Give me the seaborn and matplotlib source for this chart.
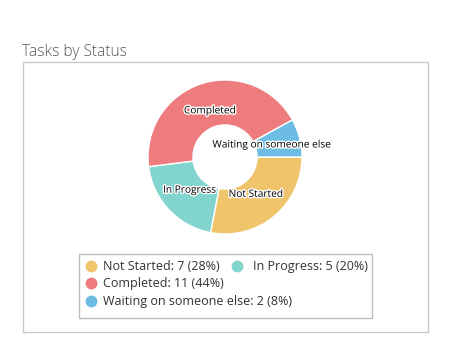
import matplotlib
matplotlib.use("Agg")
import matplotlib.pyplot as plt
import matplotlib.patheffects as pe
from matplotlib.lines import Line2D
from matplotlib.patches import Rectangle
import seaborn as sns
import numpy as np

categories = ["Not Started", "In Progress", "Completed", "Waiting on someone else"]
counts = [7, 5, 11, 2]
percents = [28, 20, 44, 8]
colors = ["#F0C46A", "#82D4CF", "#EE7B7D", "#6CBCE4"]
title = "Tasks by Status"

sns.set_theme(style="white")
plt.rcParams["font.family"] = ["Open Sans", "DejaVu Sans"]

W, H = 451, 364
fig = plt.figure(figsize=(W / 100, H / 100), dpi=100)
fig.patch.set_facecolor("white")

def fx(x):
    return x / W

def fy(y):
    return 1 - y / H

# outer panel box
fig.patches.append(Rectangle((fx(23), fy(332)), fx(428) - fx(23), fy(62) - fy(332),
                             transform=fig.transFigure, fill=False,
                             edgecolor="#c8c8c8", linewidth=1.0))
fig.text(fx(22), fy(56), title, fontsize=11.2, color="#555555",
         fontweight="light", ha="left", va="baseline")

# donut
cx, cy, r = 225, 157, 77
ax = fig.add_axes([fx(cx - r), fy(cy + r), 2 * r / W, 2 * r / H])
pal = sns.color_palette(colors)
wedges, _ = ax.pie(counts, colors=pal, startangle=0, counterclock=False,
                   radius=1.0, wedgeprops=dict(width=0.584, edgecolor="white", linewidth=1.0))
ax.set_aspect("equal")
ax.set_xlim(-1, 1)
ax.set_ylim(-1, 1)
ax.axis("off")
for w, name in zip(wedges, categories):
    ang = np.deg2rad((w.theta1 + w.theta2) / 2)
    d = 0.63
    ax.text(d * np.cos(ang), d * np.sin(ang), name, ha="center", va="center",
            fontsize=7.3, color="black",
            path_effects=[pe.withStroke(linewidth=2, foreground="white")])

# legend frame
fig.patches.append(Rectangle((fx(79), fy(318)), fx(372) - fx(79), fy(254) - fy(318),
                             transform=fig.transFigure, fill=False,
                             edgecolor="#bdbdbd", linewidth=1.0))

labels = [f"{c}: {n} ({p}%)" for c, n, p in zip(categories, counts, percents)]
handles = [Line2D([], [], marker="o", linestyle="", markersize=7.5,
                  markerfacecolor=pal[i], markeredgecolor=pal[i]) for i in range(4)]

leg_kw = dict(frameon=False, fontsize=9, handlelength=0.8, handletextpad=0.55,
              labelspacing=0.36, borderpad=0, borderaxespad=0, labelcolor="#333333")
idx1 = [0, 2, 3]
leg1 = fig.legend([handles[i] for i in idx1], [labels[i] for i in idx1],
                  loc="upper left", bbox_to_anchor=(fx(86), fy(260)), **leg_kw)
leg_kw2 = dict(leg_kw, handletextpad=0.85)
leg2 = fig.legend([handles[1]], [labels[1]],
                  loc="upper left", bbox_to_anchor=(fx(232), fy(260)), **leg_kw2)

fig.savefig("out.png", dpi=100, facecolor="white")
